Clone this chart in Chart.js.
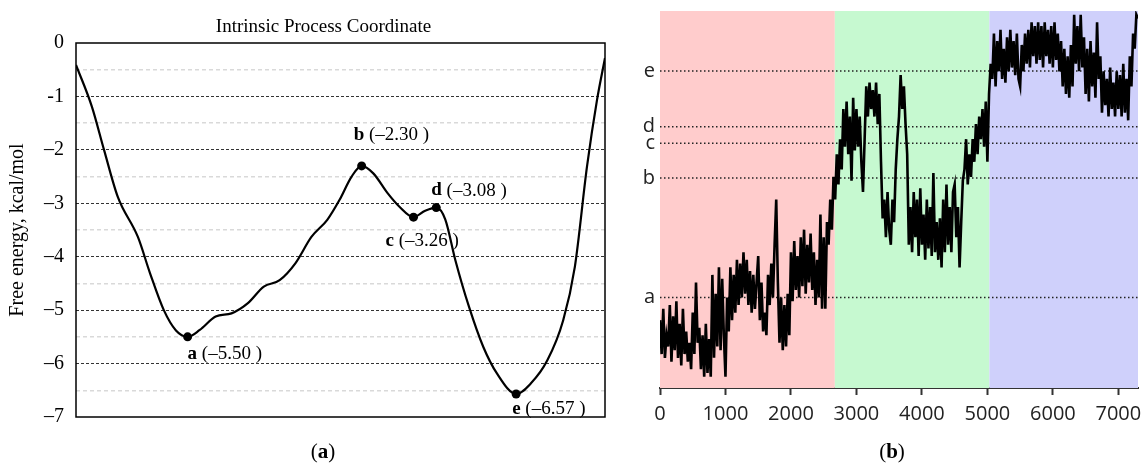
<!DOCTYPE html>
<html>
<head>
<meta charset="utf-8">
<script src="https://cdn.jsdelivr.net/npm/chart.js@4.4.1/dist/chart.umd.min.js"></script>
<style>
  body{margin:0;background:#fff;width:1141px;height:466px;overflow:hidden;position:relative}
  #wrapA{position:absolute;left:0;top:0;width:620px;height:466px}
  #wrapB{position:absolute;left:620px;top:0;width:521px;height:466px}
  .cap{position:absolute;top:439px;width:80px;text-align:center;font:21px "Liberation Serif",serif;color:#000}
</style>
</head>
<body>
<div id="wrapA"><canvas id="chartA" width="620" height="466"></canvas></div>
<div id="wrapB"><canvas id="chartB" width="521" height="466"></canvas></div>
<div class="cap" style="left:283px">(<b>a</b>)</div>
<div class="cap" style="left:852px">(<b>b</b>)</div>
<script>
// ---- panel (a): free energy along the process coordinate
const energyX = [0, 3.0, 5.3, 7.9, 11.7, 14.0, 16.6, 18.9, 21.1, 23.4, 26.4, 29.4, 32.5, 35.5, 38.5, 41.5, 44.5, 47.5, 49.8, 52.1,
                 54.0, 56.2, 58.9, 61.1, 63.8, 66.0, 68.1, 69.8, 71.7, 74.3, 77.0, 79.6, 83.2, 86.0, 89.1, 92.1, 94.3, 96.6, 98.5, 100];
const energyY = [-0.41, -1.19, -2.0, -2.88, -3.63, -4.31, -5.0, -5.38, -5.50, -5.37, -5.12, -5.06, -4.87, -4.56, -4.44, -4.12, -3.63, -3.31, -2.94, -2.5,
                 -2.30, -2.44, -2.81, -3.06, -3.26, -3.14, -3.08, -3.3, -4.06, -4.94, -5.69, -6.19, -6.57, -6.37, -5.94, -5.19, -4.19, -2.31, -1.06, -0.28];
const stateLetters = ['a', 'b', 'c', 'd', 'e'];
const stateX = [21.1, 54.0, 63.8, 68.1, 83.2];
const stateEnergy = [-5.50, -2.30, -3.26, -3.08, -6.57];
const energyTicks = [0, -1, -2, -3, -4, -5, -6, -7];
const energyHalfTicks = [-0.5, -1.5, -2.5, -3.5, -4.5, -5.5, -6.5];

// ---- panel (b): trajectory, one value every 25 frames
const frameStep = 25;
const traceValues = [
  18, 9, 21, 8, 14, 11, 22, 7, 19, 10,
  23, 8, 17, 6, 21, 9, 15, 7, 12, 5,
  20, 9, 28, 12, 16, 5, 14, 3, 17, 4,
  13, 3, 30, 8, 25, 11, 32, 10, 29, 14,
  3, 24, 15, 32, 18, 30, 20, 34, 22, 33,
  24, 36, 25, 34, 22, 31, 20, 30, 21, 28,
  35, 18, 28, 15, 20, 14, 30, 22, 33, 24,
  38, 50, 28, 12, 24, 10, 22, 11, 25, 14,
  36, 23, 39, 26, 35, 24, 40, 27, 42, 25,
  38, 28, 41, 26, 36, 22, 34, 24, 46, 21,
  40, 21, 44, 38, 50, 42, 56, 50, 62, 54,
  66, 58, 74, 64, 76, 62, 72, 55, 77, 63,
  74, 64, 72, 60, 52, 66, 80, 72, 81, 74,
  79, 72, 81, 70, 78, 60, 45, 50, 40, 52,
  42, 38, 50, 44, 58, 66, 72, 83, 74, 80,
  70, 62, 38, 48, 36, 52, 40, 50, 35, 53,
  38, 46, 34, 50, 37, 48, 35, 57, 36, 44,
  34, 45, 32, 50, 36, 54, 38, 48, 36, 52,
  54, 40, 48, 32, 44, 55, 58, 66, 54, 62,
  56, 66, 60, 70, 62, 72, 66, 74, 64, 76,
  60, 78, 86, 82, 94, 80, 92, 84, 95, 82,
  90, 81, 93, 84, 95, 85, 92, 83, 94, 82,
  80, 91, 84, 94, 86, 95, 85, 97, 88, 96,
  86, 97, 87, 96, 85, 97, 88, 95, 86, 96,
  85, 97, 87, 94, 84, 92, 80, 90, 78, 88,
  77, 91, 80, 99, 86, 96, 84, 99, 85, 93,
  78, 90, 76, 92, 80, 89, 77, 97, 82, 88,
  73, 84, 75, 82, 72, 85, 74, 81, 72, 84,
  74, 83, 72, 86, 73, 82, 71, 88, 80, 94,
  90, 99, 98
];
const markerLetters = ['a', 'b', 'c', 'd', 'e'];
const markerLevels = [24.0, 55.7, 64.9, 69.3, 84.1];
const phaseStart = [0, 2670, 5030];
const phaseEnd = [2670, 5030, 7300];
const phaseColors = ['#ffcccc', '#c6f9d0', '#cfd0fb'];
const frameTicks = [0, 1000, 2000, 3000, 4000, 5000, 6000, 7000];

const SERIF = '"Liberation Serif", "Times New Roman", serif';
const SANS = '"Open Sans", "DejaVu Sans", sans-serif';

function energyLabel(v){
  if(v === 0) return '0';
  if(v === -1) return '-1';
  return '\u2013' + Math.abs(v);
}

const boxAndText = {
  id: 'boxAndText',
  beforeDatasetsDraw(chart){
    const {ctx, chartArea: a} = chart;
    ctx.save();
    ctx.strokeStyle = '#000';
    ctx.lineWidth = 1.5;
    ctx.strokeRect(a.left, a.top, a.right - a.left, a.bottom - a.top);
    ctx.fillStyle = '#000';
    ctx.font = '19px ' + SERIF;
    ctx.textAlign = 'center';
    ctx.textBaseline = 'middle';
    ctx.fillText('Intrinsic Process Coordinate', (a.left + a.right) / 2 - 17, a.top - 16);
    ctx.restore();
  },
  afterDatasetsDraw(chart){
    const {ctx} = chart;
    const xs = chart.scales.x, ys = chart.scales.y;
    // label offsets from each point, in pixels
    const off = [[0, 17], [-8, -31], [-28, 24], [-5, -17], [-4, 15]];
    ctx.save();
    ctx.fillStyle = '#000';
    ctx.textBaseline = 'middle';
    ctx.textAlign = 'left';
    stateLetters.forEach((L, i) => {
      let px = xs.getPixelForValue(stateX[i]) + off[i][0];
      const py = ys.getPixelForValue(stateEnergy[i]) + off[i][1];
      ctx.font = 'bold 19px ' + SERIF;
      ctx.fillText(L, px, py);
      px += ctx.measureText(L).width;
      ctx.font = '19px ' + SERIF;
      ctx.fillText(' (\u2013' + Math.abs(stateEnergy[i]).toFixed(2) + ' )', px, py);
    });
    ctx.restore();
  }
};

new Chart(document.getElementById('chartA'), {
  type: 'line',
  data: {
    datasets: [
      {
        data: energyX.map((x, i) => ({x, y: energyY[i]})),
        borderColor: '#000', borderWidth: 2.2, pointRadius: 0,
        cubicInterpolationMode: 'monotone', fill: false
      },
      {
        data: stateX.map((x, i) => ({x, y: stateEnergy[i]})),
        showLine: false, pointRadius: 4.5, pointBackgroundColor: '#000', pointBorderWidth: 0
      }
    ]
  },
  options: {
    responsive: false, animation: false,
    layout: {padding: {top: 43, right: 15, bottom: 49, left: 0}},
    plugins: {legend: {display: false}, tooltip: {enabled: false}},
    scales: {
      x: {type: 'linear', min: 0, max: 100, display: false},
      y: {
        min: -7, max: 0,
        afterBuildTicks: s => { s.ticks = energyTicks.map(v => ({value: v})); },
        afterFit: s => { s.width = 76; },
        title: {display: true, text: 'Free energy, kcal/mol', color: '#000', font: {family: SERIF, size: 20}, padding: {top: 6, bottom: 0}},
        ticks: {padding: 12, color: '#000', font: {family: SERIF, size: 20}, callback: v => energyLabel(v)},
        grid: {color: c => (c.tick && (c.tick.value === 0 || c.tick.value === -7)) ? 'rgba(0,0,0,0)' : '#333', drawTicks: false, lineWidth: 1},
        border: {display: false, dash: [3, 2]}
      },
      yHalf: {
        position: 'right', min: -7, max: 0,
        afterBuildTicks: s => { s.ticks = energyHalfTicks.map(v => ({value: v})); },
        afterFit: s => { s.width = 0; },
        ticks: {display: false},
        grid: {color: '#d9d9d9', drawTicks: false, lineWidth: 1.5},
        border: {display: false, dash: [4, 3]}
      }
    }
  },
  plugins: [boxAndText]
});

// ---- panel (b)
const phaseBands = {
  id: 'phaseBands',
  beforeDatasetsDraw(chart){
    const {ctx, chartArea: a} = chart;
    const xs = chart.scales.x;
    ctx.save();
    phaseStart.forEach((s, i) => {
      const x0 = xs.getPixelForValue(s), x1 = xs.getPixelForValue(phaseEnd[i]);
      ctx.fillStyle = phaseColors[i];
      ctx.fillRect(x0, a.top, x1 - x0, a.bottom - a.top);
    });
    ctx.restore();
  }
};

const markerSets = markerLevels.map(v => ({
  data: [{x: 0, y: v}, {x: 7300, y: v}],
  borderColor: '#222', borderWidth: 1.5, borderDash: [1.5, 2.5], pointRadius: 0, fill: false
}));

new Chart(document.getElementById('chartB'), {
  type: 'line',
  data: {
    datasets: [
      {
        data: traceValues.map((v, i) => ({x: i * frameStep, y: v})),
        borderColor: '#000', borderWidth: 2.6, pointRadius: 0, tension: 0, fill: false
      },
      ...markerSets
    ]
  },
  options: {
    responsive: false, animation: false,
    layout: {padding: {top: 11, right: 3, bottom: 36, left: 0}},
    plugins: {legend: {display: false}, tooltip: {enabled: false}},
    scales: {
      x: {
        type: 'linear', min: 0, max: 7300,
        afterBuildTicks: s => { s.ticks = frameTicks.map(v => ({value: v})); },
        afterFit: s => { s.height = 42; s.paddingLeft = 0; s.paddingRight = 0; },
        ticks: {color: '#222', padding: 7, maxRotation: 0, font: {family: SANS, size: 20}, callback: v => String(v)},
        grid: {drawOnChartArea: false, tickLength: 7, tickColor: '#333', tickWidth: 2},
        border: {color: '#333', width: 2}
      },
      y: {
        min: 0, max: 100,
        afterBuildTicks: s => { s.ticks = markerLevels.map(v => ({value: v})); },
        afterFit: s => { s.width = 40; s.paddingTop = 0; s.paddingBottom = 0; },
        ticks: {color: '#222', padding: 5, font: {family: SANS, size: 20}, callback: (v, i) => markerLetters[i]},
        grid: {display: false, drawTicks: false},
        border: {display: false}
      }
    }
  },
  plugins: [phaseBands]
});
</script>
</body>
</html>
